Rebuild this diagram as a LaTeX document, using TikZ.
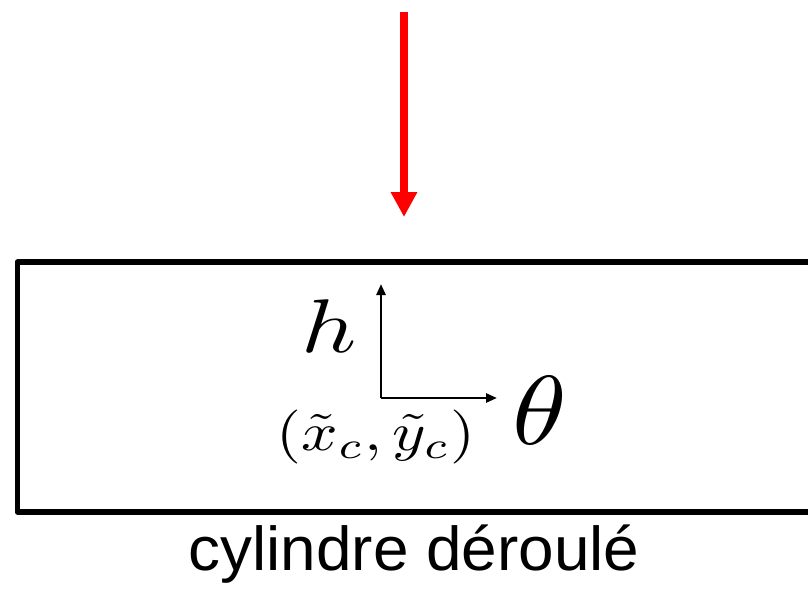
\documentclass[tikz,border=0pt]{standalone}
\usepackage{fontspec}
\newfontfamily\labelfont{Liberation Sans}
\usetikzlibrary{arrows.meta}
\tikzset{
  frame/.style={draw=black, line width=5.5pt, line join=round},
  redarrow/.style={draw=red, line width=8pt, -{Triangle[length=25pt,width=25pt]}},
  axis/.style={draw=black, line width=2.5pt, -{Triangle[length=11pt,width=9pt]}},
  mathlbl/.style={inner sep=0pt, anchor=base},
  caption/.style={inner sep=0pt, anchor=base, font=\labelfont\fontsize{62}{62}\selectfont}
}
\begin{document}
\begin{tikzpicture}[x=1pt,y=-1pt]
\useasboundingbox (0,0) rectangle (808,589);
\clip (0,0) rectangle (808,589);
\draw[frame] (17.5,262) rectangle (840,512);
\coordinate (rtop) at (404,12);
\coordinate (rtip) at (404,217);
\draw[redarrow] (rtop) -- (rtip);
\coordinate (O) at (381,398);
\coordinate (hy) at (381,284);
\coordinate (tx) at (497,398);
\draw[axis] (O) -- (hy);
\draw[axis] (O) -- (tx);
\node[mathlbl, xscale=9.6, yscale=7.6] (h) at (329,352) {$h$};
\node[mathlbl, xscale=11, yscale=9.8] (t) at (540,444) {$\theta$};
\node[mathlbl, xscale=6.4, yscale=5.4] (c) at (376,450) {$(\tilde{x}_c,\tilde{y}_c)$};
\node[caption, xscale=1.03] (cap) at (414,570) {cylindre déroulé};
\end{tikzpicture}
\end{document}
